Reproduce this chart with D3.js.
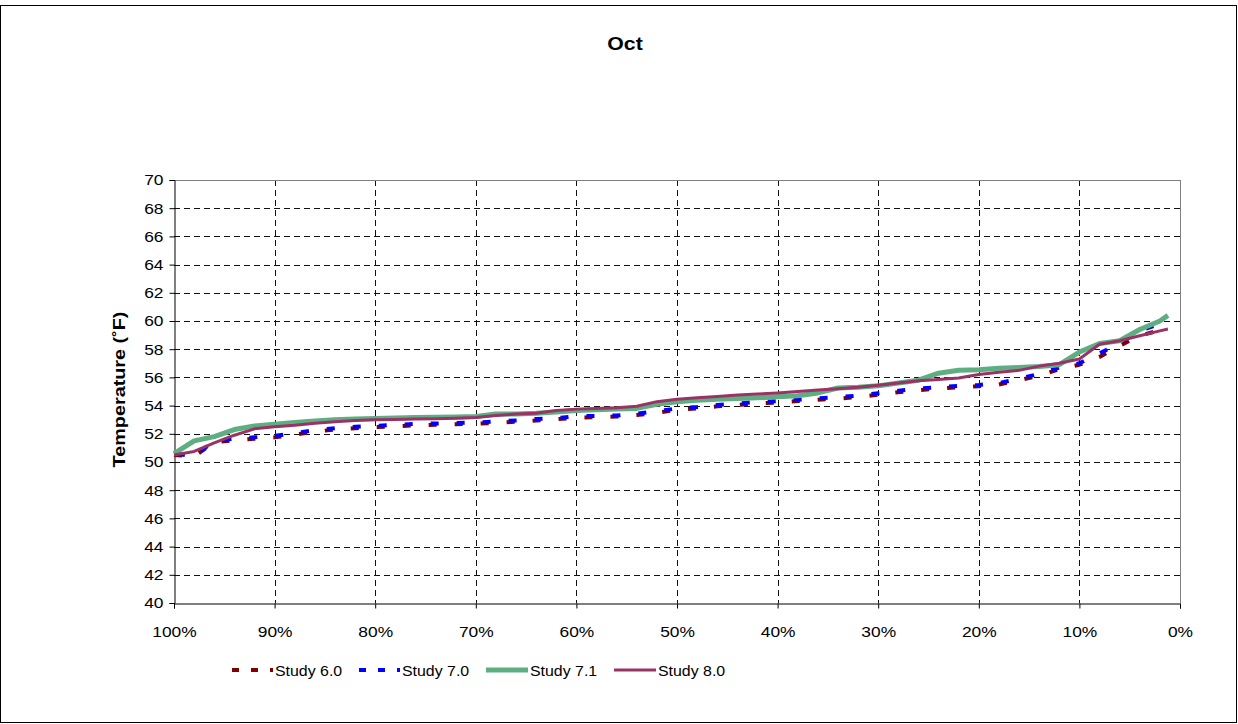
<!DOCTYPE html>
<html>
<head>
<meta charset="utf-8">
<script src="https://cdn.jsdelivr.net/npm/d3@7"></script>
<style>
  html, body { margin: 0; padding: 0; background: #fff; }
  svg { display: block; font-family: "Liberation Sans", Arial, sans-serif; }
</style>
</head>
<body>
<svg id="chart" width="1238" height="724"></svg>
<script>
// Exceedance probability (%) for each plotted point
const exceedance = [100, 98, 96, 94, 92, 90, 88, 86, 84, 82, 80, 78, 76, 74, 72, 70, 68, 66, 64, 62,
  60, 58, 56, 54, 52, 50, 48, 46, 44, 42, 40, 38, 36, 34, 32, 30, 28, 26, 24, 22,
  20, 18, 16, 14, 12, 10, 8, 6, 4, 2, 1.2];

// October temperature (°F) per study
const study60 = [50.5, 50.4, 51.4, 51.55, 51.65, 51.75, 51.95, 52.15, 52.3, 52.4, 52.48, 52.53, 52.6, 52.64, 52.68, 52.71, 52.78, 52.86, 52.95, 53.03,
  53.15, 53.18, 53.22, 53.33, 53.5, 53.7, 53.8, 53.95, 54.05, 54.15, 54.22, 54.32, 54.42, 54.5, 54.6, 54.78, 54.95, 55.1, 55.2, 55.3,
  55.38, 55.5, 55.8, 56.12, 56.58, 56.9, 57.45, 58.25, 58.95, 59.35, 59.5];
const study70 = [50.6, 50.4, 51.5, 51.65, 51.75, 51.85, 52.05, 52.25, 52.4, 52.5, 52.57, 52.62, 52.7, 52.73, 52.77, 52.8, 52.88, 52.95, 53.05, 53.12,
  53.25, 53.26, 53.3, 53.42, 53.6, 53.8, 53.9, 54.05, 54.15, 54.25, 54.32, 54.42, 54.52, 54.6, 54.7, 54.88, 55.05, 55.2, 55.3, 55.4,
  55.46, 55.6, 55.9, 56.25, 56.7, 57.0, 57.7, 58.45, 59.3, 59.8, 60.0];
const study71 = [50.6, 51.5, 51.8, 52.3, 52.55, 52.68, 52.8, 52.9, 53.0, 53.05, 53.08, 53.12, 53.15, 53.18, 53.2, 53.22, 53.4, 53.4, 53.45, 53.55,
  53.65, 53.7, 53.75, 53.8, 54.1, 54.28, 54.38, 54.45, 54.5, 54.55, 54.62, 54.7, 54.9, 55.25, 55.3, 55.4, 55.6, 55.8, 56.3, 56.5,
  56.55, 56.65, 56.7, 56.78, 56.9, 57.8, 58.4, 58.6, 59.4, 60.0, 60.4];
const study80 = [50.5, 50.75, 51.35, 51.9, 52.35, 52.5, 52.6, 52.75, 52.85, 52.95, 53.0, 53.02, 53.05, 53.07, 53.1, 53.15, 53.3, 53.4, 53.45, 53.65,
  53.75, 53.8, 53.85, 53.95, 54.28, 54.45, 54.55, 54.65, 54.75, 54.82, 54.9, 55.0, 55.1, 55.2, 55.3, 55.45, 55.6, 55.77, 55.85, 55.96,
  56.2, 56.36, 56.5, 56.8, 57.0, 57.3, 58.35, 58.6, 58.95, 59.3, 59.43];

const xTicks = [100, 90, 80, 70, 60, 50, 40, 30, 20, 10, 0];
const yTicks = [40, 42, 44, 46, 48, 50, 52, 54, 56, 58, 60, 62, 64, 66, 68, 70];

const seriesNames = ["Study 6.0", "Study 7.0", "Study 7.1", "Study 8.0"];
const seriesValues = [study60, study70, study71, study80];

// Drawing styles for each study
const styles = [
  { color: "#800000", width: 4, dash: "8,18", offset: 0, legendDash: "7,12" },
  { color: "#0000FF", width: 4, dash: "8,18", offset: -3, legendDash: "7,12" },
  { color: "#5FAE82", width: 5, dash: null, offset: 0, legendDash: null },
  { color: "#993366", width: 3, dash: null, offset: 0, legendDash: null }
];

const svg = d3.select("#chart");
const W = 1238, H = 724;
const plot = { left: 174, right: 1180, top: 180, bottom: 603 };

// Widen text horizontally by a factor (the chart's text renders slightly broad)
function widen(sel, factor) {
  sel.each(function () {
    const len = this.getComputedTextLength();
    d3.select(this).attr("textLength", len * factor).attr("lengthAdjust", "spacingAndGlyphs");
  });
}

// Outer chart frame
svg.append("rect")
  .attr("x", 0.5).attr("y", 5.5)
  .attr("width", W - 2).attr("height", H - 7)
  .attr("fill", "#fff").attr("stroke", "#000").attr("stroke-width", 1);

const x = d3.scaleLinear().domain([100, 0]).range([plot.left, plot.right]);
const y = d3.scaleLinear().domain([40, 70]).range([plot.bottom, plot.top]);

// Title
svg.append("text")
  .attr("x", 625).attr("y", 50)
  .attr("text-anchor", "middle")
  .attr("font-size", 19).attr("font-weight", "bold")
  .text("Oct")
  .call(widen, 1.12);

// Gridlines
const grid = svg.append("g");
grid.selectAll("line.h")
  .data(yTicks.filter(t => t > 40 && t < 70))
  .join("line")
  .attr("x1", plot.left).attr("x2", plot.right)
  .attr("y1", d => Math.round(y(d)) + 0.5).attr("y2", d => Math.round(y(d)) + 0.5)
  .attr("stroke", "#111").attr("stroke-width", 1).attr("stroke-dasharray", "6,4");
grid.selectAll("line.v")
  .data(xTicks.filter(t => t > 0 && t < 100))
  .join("line")
  .attr("y1", plot.top).attr("y2", plot.bottom)
  .attr("x1", d => Math.round(x(d)) + 0.5).attr("x2", d => Math.round(x(d)) + 0.5)
  .attr("stroke", "#111").attr("stroke-width", 1).attr("stroke-dasharray", "6,4");

// Top and right plot edges
svg.append("line")
  .attr("x1", plot.left).attr("x2", plot.right + 0.5)
  .attr("y1", plot.top + 0.5).attr("y2", plot.top + 0.5)
  .attr("stroke", "#808080");
svg.append("line")
  .attr("x1", plot.right + 0.5).attr("x2", plot.right + 0.5)
  .attr("y1", plot.top).attr("y2", plot.bottom)
  .attr("stroke", "#808080");

// Axes
const yAxis = d3.axisLeft(y).tickValues(yTicks).tickSize(5).tickPadding(6).tickFormat(d3.format("d"));
const xAxis = d3.axisBottom(x).tickValues(xTicks).tickSize(5).tickPadding(17).tickFormat(d => d + "%");

const gy = svg.append("g").attr("transform", `translate(${plot.left + 0.5},0)`).call(yAxis);
const gx = svg.append("g").attr("transform", `translate(0,${plot.bottom + 0.5})`).call(xAxis);
[gx, gy].forEach(g => {
  g.select(".domain").attr("stroke", "#000");
  g.selectAll(".tick line").attr("stroke", "#000");
  g.selectAll(".tick text")
    .attr("fill", "#000")
    .attr("font-size", 15.5)
    .attr("font-family", "Liberation Sans, Arial, sans-serif")
    .call(widen, 1.12);
});

// Y axis title
svg.append("text")
  .attr("transform", `translate(125,${(plot.top + plot.bottom) / 2 - 2}) rotate(-90)`)
  .attr("text-anchor", "middle")
  .attr("font-size", 16.5).attr("font-weight", "bold")
  .text("Temperature (˚F)")
  .call(widen, 1.2);

// Series lines
const line = d3.line()
  .x((d, i) => x(exceedance[i]))
  .y(d => y(d));

const lines = svg.append("g");
seriesValues.forEach((vals, k) => {
  const s = styles[k];
  lines.append("path")
    .datum(vals)
    .attr("d", line)
    .attr("fill", "none")
    .attr("stroke", s.color)
    .attr("stroke-width", s.width)
    .attr("stroke-linejoin", "round")
    .attr("stroke-dasharray", s.dash)
    .attr("stroke-dashoffset", s.offset);
});

// Legend
const legendX = [232, 359, 486, 614];
const legendY = 670;
const legend = svg.append("g");
seriesNames.forEach((name, k) => {
  const s = styles[k];
  const g = legend.append("g").attr("transform", `translate(${legendX[k]},${legendY})`);
  g.append("line")
    .attr("x1", 0).attr("x2", s.dash ? 41 : 42)
    .attr("y1", 0).attr("y2", 0)
    .attr("stroke", s.color)
    .attr("stroke-width", s.width)
    .attr("stroke-dasharray", s.legendDash);
  g.append("text")
    .attr("x", s.dash ? 43 : 44).attr("y", 5.5)
    .attr("font-size", 15)
    .text(name)
    .call(widen, 1.06);
});
</script>
</body>
</html>
